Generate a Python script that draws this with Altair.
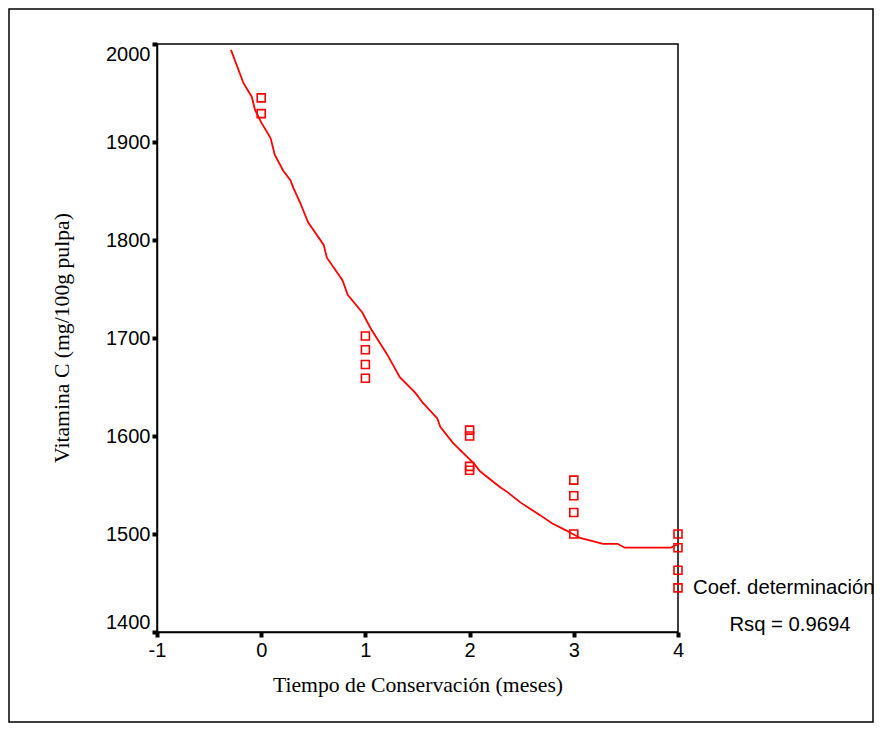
import altair as alt
import pandas as pd

# Observed data (months, vitamin C mg/100g pulp)
obs_time = [0, 0,
            1, 1, 1, 1,
            2, 2, 2, 2,
            3, 3, 3, 3,
            4, 4, 4, 4]
obs_vitc = [1945, 1929,
            1702, 1688, 1673, 1659,
            1606, 1600, 1569, 1565,
            1555, 1539, 1522, 1500,
            1500, 1486, 1463, 1445]

# Fitted curve
curve_x = [-0.29, -0.17, -0.09, -0.06, 0.0, 0.09, 0.13, 0.21, 0.28, 0.31, 0.37, 0.45,
           0.60, 0.63, 0.78, 0.83, 0.97, 1.05, 1.21, 1.33, 1.48, 1.55, 1.69, 1.72,
           1.84, 2.04, 2.10, 2.29, 2.36, 2.49, 2.68, 2.79, 2.92, 3.06, 3.28, 3.42,
           3.49, 3.93, 3.99]
curve_y = [1994, 1960, 1946, 1933, 1920, 1904, 1887, 1871, 1861, 1853, 1839, 1818,
           1795, 1782, 1759, 1744, 1726, 1710, 1683, 1660, 1644, 1634, 1618, 1609,
           1593, 1572, 1564, 1548, 1543, 1532, 1519, 1511, 1504, 1496, 1490, 1490,
           1486, 1486, 1489]

x_ticks = [-1, 0, 1, 2, 3, 4]
y_ticks = [1400, 1500, 1600, 1700, 1800, 1900, 2000]

x_title = "Tiempo de Conservación (meses)"
y_title = "Vitamina C (mg/100g pulpa)"
note1 = "Coef. determinación"
note2 = "Rsq = 0.9694"

obs = pd.DataFrame({"t": obs_time, "v": obs_vitc})
curve = pd.DataFrame({"t": curve_x, "v": curve_y, "o": list(range(len(curve_x)))})

W, H = 521, 588
xs = alt.Scale(domain=[-1, 4], nice=False, zero=False)
ys = alt.Scale(domain=[1400, 2000], nice=False, zero=False)

sans = "Liberation Sans"
serif = "Liberation Serif"

xaxis = alt.Axis(values=x_ticks, title=None, grid=False, labelFont=sans, labelFontSize=20,
                 labelColor="black", domainColor="black", domainWidth=1.5,
                 tickColor="black", tickSize=5, tickWidth=4, labelPadding=3,
                 labelFlush=False, labelExpr="'' + datum.value")
yaxis = alt.Axis(values=y_ticks, title=None, grid=False, labelFont=sans, labelFontSize=20,
                 labelColor="black", domainColor="black", domainWidth=1.5,
                 tickColor="black", tickSize=5, tickWidth=4, labelPadding=2,
                 labelFlush=True, labelExpr="'' + datum.value")

line = alt.Chart(curve).mark_line(color="#ff0000", strokeWidth=1.8).encode(
    x=alt.X("t:Q", scale=xs, axis=xaxis),
    y=alt.Y("v:Q", scale=ys, axis=yaxis),
    order="o:Q",
)

pts = alt.Chart(obs).mark_point(shape="square", filled=False, color="#ff0000",
                                size=64, strokeWidth=1.6, opacity=1).encode(
    x=alt.X("t:Q", scale=xs),
    y=alt.Y("v:Q", scale=ys),
)

def txt(s, x, y, font, size, align="center", angle=0):
    return alt.Chart(pd.DataFrame({"s": [s]})).mark_text(
        font=font, fontSize=size, align=align, baseline="middle", angle=angle, color="black"
    ).encode(x=alt.value(x), y=alt.value(y), text="s:N")

t_x = txt(x_title, 261, 641, serif, 21.7)
t_y = txt(y_title, -95, 294, serif, 21.7, angle=270)
t_n1 = txt(note1, 536, 544, sans, 20.3, align="left")
t_n2 = txt(note2, 633, 581, sans, 20.3)

frame = alt.Chart(pd.DataFrame({"a": [0]})).mark_rect(
    fill="transparent", stroke="black", strokeWidth=1.5
).encode(x=alt.value(-148), x2=alt.value(716), y=alt.value(-35), y2=alt.value(678))

chart = alt.layer(frame, line, pts, t_x, t_y, t_n1, t_n2).properties(
    width=W, height=H,
    autosize=alt.AutoSizeParams(type="none"),
    padding={"left": 149, "top": 36, "right": 197, "bottom": 92},
).configure(
    background="white",
    view=alt.ViewConfig(stroke="black", strokeWidth=1.5),
)

chart.save("out.html", embed_options={"renderer": "svg", "actions": False})
